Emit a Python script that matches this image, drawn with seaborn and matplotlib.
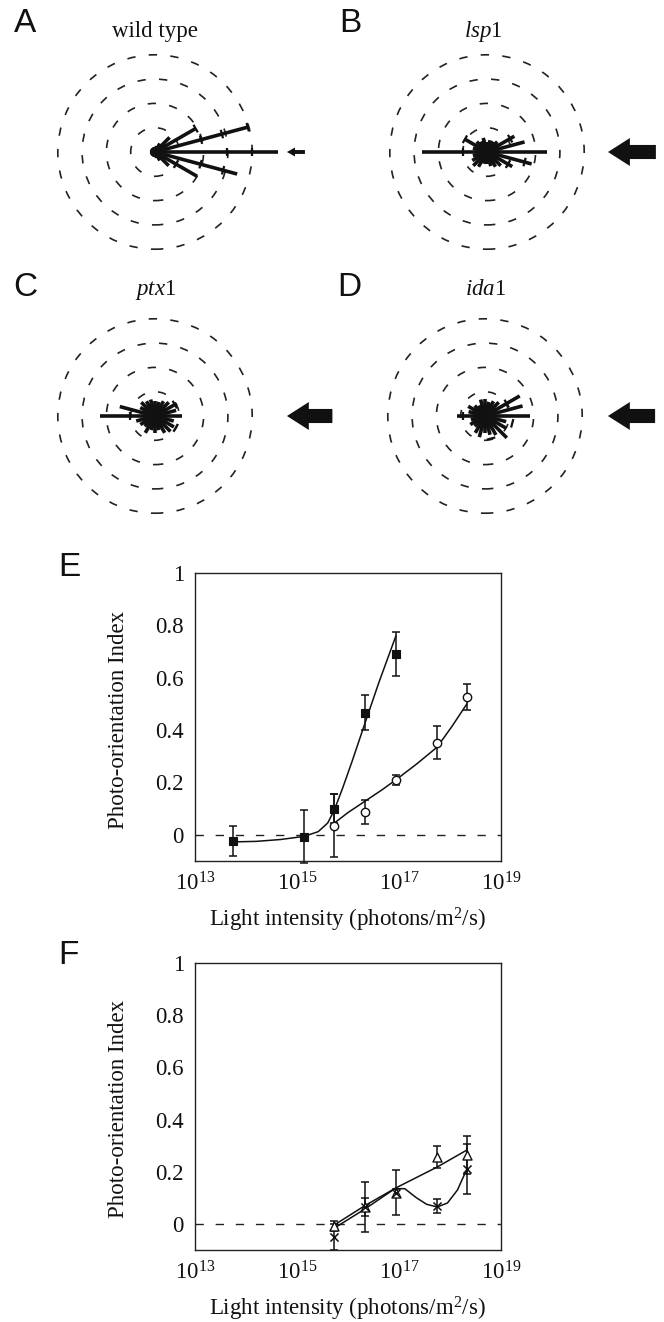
"""
Phototaxis figure: rose diagrams of cell orientation (A-D) and
photo-orientation index vs light intensity (E, F).
"""

import matplotlib
matplotlib.use("Agg")  # non-interactive backend

import matplotlib.pyplot as plt
from matplotlib.patches import Circle
import numpy as np
import pandas as pd
import seaborn as sns

# ---------------- data ----------------
# rose diagrams: 24 bins of 15 deg (0 deg = towards the light source on the right),
# values = % of cells, dashed rings every 10 %
BIN_DEG = list(range(0, 360, 15))

WT_PCT = [50.6, 39.5, 19.3, 8.5, 4.0, 2.5, 2.0, 2.0, 2.0, 2.0, 2.0, 2.0,
          2.0, 2.0, 2.0, 2.0, 2.0, 2.0, 2.0, 2.5, 4.0, 8.0, 20.0, 35.0]
LSP_PCT = [24.7, 16.0, 13.0, 6.0, 5.0, 5.0, 4.0, 6.0, 5.0, 6.0, 10.7, 6.0,
           26.7, 6.0, 7.0, 8.0, 7.0, 5.0, 5.0, 6.0, 7.0, 8.0, 12.0, 19.0]
PTX_PCT = [11.0, 9.0, 10.3, 8.0, 7.0, 6.0, 6.0, 7.0, 7.0, 8.0, 7.0, 15.0,
           22.6, 8.0, 7.0, 6.0, 8.0, 6.0, 7.0, 6.0, 8.0, 9.0, 9.0, 8.0]
IDA_PCT = [18.5, 16.0, 16.5, 8.0, 7.0, 6.0, 7.0, 7.0, 5.0, 6.0, 8.0, 7.0,
           11.5, 6.0, 7.0, 6.0, 8.0, 9.0, 7.0, 8.0, 9.0, 12.7, 10.0, 9.0]

# error marks drawn across the spokes (angle, radius in %)
WT_MARK_DEG = [0, 0, 15, 15, 15, 30, 345, 345, 330]
WT_MARK_R = [29.6, 40.0, 19.6, 28.5, 39.5, 19.3, 19.4, 29.0, 10.0]
LSP_MARK_DEG = [180, 30, 330, 150, 345]
LSP_MARK_R = [10.0, 11.0, 10.0, 10.5, 16.0]
PTX_MARK_DEG = [180, 30, 330]
PTX_MARK_R = [10.3, 9.4, 9.8]
IDA_MARK_DEG = [180, 30, 345, 285]
IDA_MARK_R = [9.0, 10.3, 11.6, 9.6]

RING_PCT = [10, 20, 30, 40]
ROSE_TITLES = ["wild type", r"$\mathit{lsp}$1", r"$\mathit{ptx}$1", r"$\mathit{ida}$1"]

# E: wild type (filled squares) and second strain (open circles)
E_SQ_X = [5.6e13, 1.38e15, 5.4e15, 2.14e16, 8.7e16]
E_SQ_Y = [-0.025, -0.007, 0.10, 0.467, 0.69]
E_SQ_ERR = [0.057, 0.10, 0.055, 0.067, 0.085]
E_CI_X = [5.4e15, 2.14e16, 8.7e16, 5.6e17, 2.14e18]
E_CI_Y = [0.034, 0.088, 0.21, 0.352, 0.527]
E_CI_ERR = [0.12, 0.045, 0.018, 0.063, 0.05]
# fitted curves
E_SQ_FIT_X = [5.6e13, 1.6e14, 4.7e14, 1.38e15, 2.6e15, 4.0e15, 5.4e15, 7.9e15,
              1.2e16, 2.14e16, 4.0e16, 8.7e16]
E_SQ_FIT_Y = [-0.027, -0.025, -0.018, -0.006, 0.012, 0.045, 0.095, 0.18,
              0.28, 0.425, 0.58, 0.76]
E_CI_FIT_X = [5.4e15, 1.0e16, 2.14e16, 4.5e16, 8.7e16, 2.2e17, 5.6e17,
              1.1e18, 2.14e18]
E_CI_FIT_Y = [0.045, 0.085, 0.128, 0.17, 0.21, 0.27, 0.335, 0.415, 0.50]

# F: open triangles and crosses
F_X = [5.4e15, 2.14e16, 8.7e16, 5.6e17, 2.14e18]
F_TRI_Y = [-0.008, 0.065, 0.12, 0.257, 0.265]
F_TRI_ERR = [0.02, 0.096, 0.086, 0.043, 0.072]
F_CRS_Y = [-0.05, 0.065, 0.12, 0.07, 0.21]
F_CRS_ERR = [0.05, 0.035, 0.015, 0.027, 0.095]
F_TRI_FIT_X = [5.4e15, 2.14e16, 8.7e16, 5.6e17, 2.14e18]
F_TRI_FIT_Y = [-0.004, 0.07, 0.138, 0.218, 0.283]
F_CRS_FIT_X = [5.4e15, 2.14e16, 8.3e16, 1.3e17, 2.2e17, 3.5e17, 5.6e17,
               8.9e17, 1.4e18, 2.14e18]
F_CRS_FIT_Y = [-0.016, 0.057, 0.135, 0.135, 0.10, 0.075, 0.065, 0.08, 0.13, 0.21]

X_TICKS = [1e13, 1e15, 1e17, 1e19]
X_TICK_LABELS = [r"$10^{13}$", r"$10^{15}$", r"$10^{17}$", r"$10^{19}$"]
X_MINOR = [1e14, 1e16, 1e18]
Y_TICKS = [0, 0.2, 0.4, 0.6, 0.8, 1.0]
Y_TICK_LABELS = ["0", "0.2", "0.4", "0.6", "0.8", "1"]
Y_MINOR = [0.1, 0.3, 0.5, 0.7, 0.9]

# ---------------- layout ----------------
FIG_W, FIG_H = 664, 1322
PX_PER_PCT = 2.43
ROSE_HALF = 175


def rect(left, top, width, height):
    return [left / FIG_W, 1 - (top + height) / FIG_H, width / FIG_W, height / FIG_H]


def fx(x):
    return x / FIG_W


def fy(y):
    return 1 - y / FIG_H


def draw_rose(fig, cx, cy, pct, mark_deg, mark_r, arrow):
    ax = fig.add_axes(rect(cx - ROSE_HALF, cy - ROSE_HALF, 2 * ROSE_HALF, 2 * ROSE_HALF))
    lim = ROSE_HALF / PX_PER_PCT
    ax.set_xlim(-lim, lim)
    ax.set_ylim(-lim, lim)
    ax.set_aspect("equal")
    ax.axis("off")
    for r in RING_PCT:
        ax.add_patch(Circle((0, 0), r, fill=False, ec="#222222", lw=1.2,
                            ls=(0, (5, 8))))
    th = np.deg2rad(BIN_DEG)
    for t, r in zip(th, pct):
        ax.plot([0, r * np.cos(t)], [0, r * np.sin(t)], color="#111111",
                lw=2.6, solid_capstyle="butt")
    h = 1.8
    for d, r in zip(mark_deg, mark_r):
        t = np.deg2rad(d)
        px, py = r * np.cos(t), r * np.sin(t)
        ax.plot([px - h * np.sin(t), px + h * np.sin(t)],
                [py + h * np.cos(t), py - h * np.cos(t)],
                color="#111111", lw=1.6, solid_capstyle="butt")
    tip, tail, width, head_w, head_l = arrow
    ax.arrow(tail, 0, tip - tail, 0, width=width, head_width=head_w,
             head_length=head_l, length_includes_head=True, fc="#111111",
             ec="#111111", lw=0, clip_on=False)
    return ax


def style_curve_axes(ax):
    ax.set_xscale("log")
    ax.set_xlim(1e13, 1e19)
    ax.set_ylim(-0.1, 1.0)
    ax.set_xticks(X_TICKS)
    ax.set_xticklabels(X_TICK_LABELS)
    ax.set_xticks(X_MINOR, minor=True)
    ax.set_yticks(Y_TICKS)
    ax.set_yticklabels(Y_TICK_LABELS)
    ax.set_yticks(Y_MINOR, minor=True)
    ax.tick_params(which="both", direction="in", length=4, width=1,
                   top=False, right=False, labelsize=16.5, pad=8)
    ax.tick_params(which="minor", labelbottom=False, labelleft=False)
    for s in ax.spines.values():
        s.set_linewidth(1.0)
        s.set_color("#222222")
    ax.axhline(0, color="#222222", lw=1, ls=(0, (6, 8.5)), zorder=1)
    ax.set_xlabel("Light intensity (photons/m$^2$/s)", fontsize=16.5)
    ax.set_ylabel("Photo-orientation Index", fontsize=16.5)
    ax.xaxis.set_label_coords(0.497, -0.155)
    ax.yaxis.set_label_coords(-0.215, 0.49)


def err(ax, x, y, e):
    ax.errorbar(x, y, yerr=e, fmt="none", ecolor="#111111", elinewidth=1.1,
                capsize=3, capthick=1.1, zorder=2, clip_on=False)


def curve(ax, x, y):
    df = pd.DataFrame({"x": x, "y": y})
    sns.lineplot(data=df, x="x", y="y", estimator=None, sort=False,
                 color="#111111", lw=1.1, ax=ax, zorder=3)


def main():
    sns.set_theme(style="white")
    plt.rcParams["font.family"] = ["Liberation Serif", "DejaVu Serif"]
    plt.rcParams["mathtext.fontset"] = "custom"
    plt.rcParams["mathtext.rm"] = "Liberation Serif"
    plt.rcParams["mathtext.it"] = "Liberation Serif:italic"
    plt.rcParams["text.color"] = "#111111"
    plt.rcParams["axes.labelcolor"] = "#111111"
    plt.rcParams["xtick.color"] = "#111111"
    plt.rcParams["ytick.color"] = "#111111"

    fig = plt.figure(figsize=(FIG_W / 100, FIG_H / 100), dpi=100)
    fig.patch.set_facecolor("white")

    big = (49.8, 69.5, 5.8, 11.5, 9.0)
    draw_rose(fig, 155, 152, WT_PCT, WT_MARK_DEG, WT_MARK_R, (54.3, 61.7, 1.6, 3.7, 3.3))
    draw_rose(fig, 487, 152, LSP_PCT, LSP_MARK_DEG, LSP_MARK_R, big)
    draw_rose(fig, 155, 416, PTX_PCT, PTX_MARK_DEG, PTX_MARK_R, (54.3, 73.0, 5.8, 11.5, 9.0))
    draw_rose(fig, 485, 416, IDA_PCT, IDA_MARK_DEG, IDA_MARK_R, (50.6, 70.0, 5.8, 11.5, 9.0))

    for title, x, y in zip(ROSE_TITLES, [155, 483, 156, 486], [37, 37, 295, 295]):
        fig.text(fx(x), fy(y), title, ha="center", va="baseline", fontsize=16.5)

    for lab, x, y in zip("ABCDEF", [25, 350, 25, 349, 69, 68], [24, 24, 287, 287, 567, 956]):
        fig.text(fx(x), fy(y), lab, ha="center", va="center", fontsize=24,
                 family=["Liberation Sans", "DejaVu Sans"])

    # panel E
    axE = fig.add_axes(rect(195, 573, 306, 288))
    style_curve_axes(axE)
    curve(axE, E_SQ_FIT_X, E_SQ_FIT_Y)
    curve(axE, E_CI_FIT_X, E_CI_FIT_Y)
    err(axE, E_SQ_X, E_SQ_Y, E_SQ_ERR)
    err(axE, E_CI_X, E_CI_Y, E_CI_ERR)
    sns.scatterplot(x=E_SQ_X, y=E_SQ_Y, marker="s", s=40, color="#111111",
                    edgecolor="#111111", linewidth=0.8, ax=axE, zorder=4)
    sns.scatterplot(x=E_CI_X, y=E_CI_Y, marker="o", s=36, color="white",
                    edgecolor="#111111", linewidth=1.0, ax=axE, zorder=4)
    axE.set_xlim(1e13, 1e19)
    axE.set_ylim(-0.1, 1.0)

    # panel F
    axF = fig.add_axes(rect(195, 963, 306, 287))
    style_curve_axes(axF)
    curve(axF, F_TRI_FIT_X, F_TRI_FIT_Y)
    curve(axF, F_CRS_FIT_X, F_CRS_FIT_Y)
    err(axF, F_X, F_TRI_Y, F_TRI_ERR)
    err(axF, F_X, F_CRS_Y, F_CRS_ERR)
    sns.scatterplot(x=F_X, y=F_TRI_Y, marker="^", s=42, color="white",
                    edgecolor="#111111", linewidth=1.0, ax=axF, zorder=4)
    sns.scatterplot(x=F_X, y=F_CRS_Y, marker="x", s=34, color="#111111",
                    linewidth=1.1, ax=axF, zorder=5)
    axF.set_xlim(1e13, 1e19)
    axF.set_ylim(-0.1, 1.0)

    fig.savefig("out.png", dpi=100, facecolor="white")
    plt.close(fig)


if __name__ == "__main__":
    main()
